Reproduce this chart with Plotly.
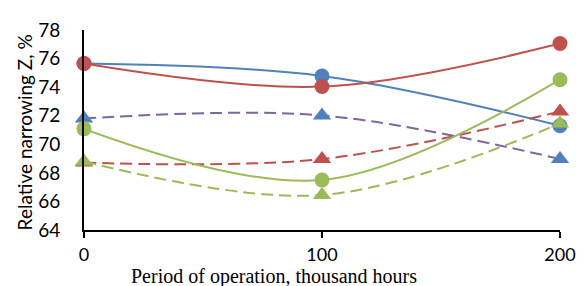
import plotly.graph_objects as go

hours = [0, 100, 200]
blue_circle = [75.65, 74.78, 71.3]
red_circle = [75.65, 74.04, 77.05]
purple_tri = [71.8, 72.02, 68.97]
red_tri = [68.72, 68.97, 72.3]
green_circle = [71.08, 67.5, 74.52]
green_tri = [68.8, 66.45, 71.45]

y_ticks = [64, 66, 68, 70, 72, 74, 76, 78]
x_ticks = [0, 100, 200]

BLUE = "#4F81BD"
RED = "#C0504D"
GREEN = "#9BBB59"
PURPLE = "#8064A2"

DASH = "12px,6px"
series = [
    (blue_circle, BLUE, BLUE, "solid", "circle"),
    (red_circle, RED, RED, "solid", "circle"),
    (purple_tri, PURPLE, BLUE, DASH, "triangle-up"),
    (red_tri, RED, RED, DASH, "triangle-up"),
    (green_circle, GREEN, GREEN, "solid", "circle"),
    (green_tri, GREEN, GREEN, DASH, "triangle-up"),
]

fig = go.Figure()
for vals, lc, mc, dash, sym in series:
    fig.add_trace(go.Scatter(
        x=hours, y=vals, mode="lines+markers",
        line=dict(color=lc, width=2, dash=dash, shape="spline", smoothing=1.0),
        marker=dict(color=mc, size=15 if sym == "circle" else 16, symbol=sym,
                    line=dict(width=0)),
        cliponaxis=False, showlegend=False,
    ))

# page body has an 8px default margin; figure sized to fit the window after it
OFF = 8
L, R, T, B = 84 - OFF, 23, 18 - OFF, 56
W, H = 586 - OFF, 286 - OFF
PW = W - L - R

fig.update_layout(
    width=W, height=H,
    margin=dict(l=L, r=R, t=T, b=B),
    paper_bgcolor="white", plot_bgcolor="white",
    font=dict(family="Lato, Open Sans, sans-serif", size=19, color="black"),
    xaxis=dict(range=[0, 200], tickvals=x_ticks, ticktext=[str(v) for v in x_ticks],
               showgrid=False, zeroline=False, showline=True, linecolor="black",
               linewidth=2, ticks="outside", ticklen=6, tickwidth=2, tickcolor="black",
               ticklabelstandoff=1, ticklabeloverflow="allow",
               tickfont=dict(size=18)),
    yaxis=dict(range=[64, 78], tickvals=y_ticks, ticktext=[str(v) for v in y_ticks],
               showgrid=False, zeroline=False, showline=True, linecolor="black",
               linewidth=2, ticks="", ticklabelstandoff=18, ticklabeloverflow="allow"),
    annotations=[
        dict(text="Period of operation, thousand hours", xref="paper", yref="paper",
             x=(275 - 84) / PW, y=0, xanchor="center", yanchor="middle", yshift=-46,
             showarrow=False, font=dict(family="Liberation Serif, Times New Roman, serif",
                                        size=20, color="black")),
        dict(text="Relative narrowing Z, %", xref="paper", yref="paper",
             x=(24 - 84) / PW, y=0.49, xanchor="center", yanchor="middle",
             textangle=-90, showarrow=False,
             font=dict(family="Lato, Open Sans, sans-serif", size=19, color="black")),
    ],
)

fig.write_html("out.html")
